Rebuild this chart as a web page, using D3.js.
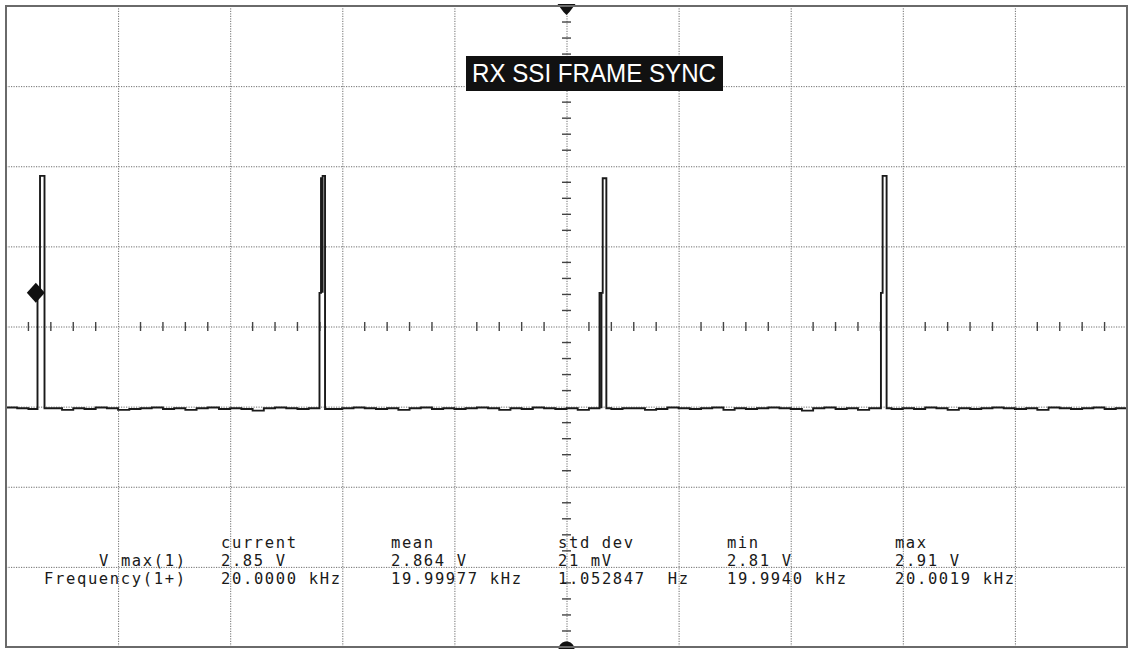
<!DOCTYPE html>
<html>
<head>
<meta charset="utf-8">
<script src="https://cdn.jsdelivr.net/npm/d3@7"></script>
<style>
  html, body { margin: 0; padding: 0; background: #fff; }
  svg { display: block; }
  .mono { font-family: "DejaVu Sans Mono", "Liberation Mono", monospace; font-size: 15.5px; fill: #1a1a1a; white-space: pre; }
</style>
</head>
<body>
<script>
// ---------- DATA ----------
// Time axis in microseconds (20 us/div), voltage axis in volts (1 V/div)
const timeDomain = [-100, 100];
const voltDomain = [-3, 5];
const xGridTicks = [-80, -60, -40, -20, 0, 20, 40, 60, 80];
const yGridTicks = [-2, -1, 0, 1, 2, 3, 4];
const xMinorTicks = [-96,-92,-88,-84,-76,-72,-68,-64,-56,-52,-48,-44,-36,-32,-28,-24,-16,-12,-8,-4,
                     4,8,12,16,24,28,32,36,44,48,52,56,64,68,72,76,84,88,92,96];
const yMinorTicks = [-2.8,-2.6,-2.4,-2.2,-1.8,-1.6,-1.4,-1.2,-0.8,-0.6,-0.4,-0.2,0.2,0.4,0.6,0.8,
                     1.2,1.4,1.6,1.8,2.2,2.4,2.6,2.8,3.2,3.4,3.6,3.8,4.2,4.4,4.6,4.8];

// Baseline samples (V), one every 2 us from -100 us
const baselineNoise = [
 -0.01,-0.02,-0.03,-0.01,-0.02,-0.04,-0.02,-0.03,-0.01,-0.02,
 -0.04,-0.03,-0.02,-0.01,-0.03,-0.02,-0.04,-0.02,-0.01,-0.03,
 -0.02,-0.03,-0.05,-0.02,-0.01,-0.02,-0.03,-0.02,-0.04,-0.03,
 -0.02,-0.01,-0.02,-0.03,-0.02,-0.04,-0.02,-0.01,-0.03,-0.02,
 -0.03,-0.02,-0.01,-0.02,-0.04,-0.02,-0.03,-0.01,-0.02,-0.03,
 -0.02,-0.04,-0.02,-0.01,-0.03,-0.02,-0.02,-0.04,-0.03,-0.01,
 -0.02,-0.03,-0.02,-0.01,-0.04,-0.02,-0.03,-0.02,-0.01,-0.02,
 -0.03,-0.05,-0.02,-0.01,-0.03,-0.02,-0.04,-0.02,-0.01,-0.03,
 -0.02,-0.03,-0.01,-0.02,-0.04,-0.02,-0.03,-0.02,-0.01,-0.02,
 -0.03,-0.02,-0.04,-0.01,-0.02,-0.03,-0.02,-0.01,-0.03,-0.02,
 -0.02];
const sampleStep = 2;

// Frame-sync pulses: [time us, volts] vertices (persistence overlay)
const pulse1 = [[-94.38, 1.42], [-93.93, 2.88], [-93.13, -0.02]];
const pulse2 = [[-44.07, 1.42], [-43.80, 2.85], [-43.51, 1.42], [-43.51, 2.88], [-43.08, -0.03]];
const pulse3 = [[5.89, 1.42], [6.24, -0.02], [6.24, 1.42], [6.46, 2.85], [7.11, -0.02]];
const pulse4 = [[56.10, 1.42], [56.40, 2.88], [57.11, -0.02]];
const pulses = [pulse1, pulse2, pulse3, pulse4];

const triggerLevel = 1.42;
const triggerTime = -94.5;

const channelLabel = "RX SSI FRAME SYNC";
const statHeaders = ["current", "mean", "std dev", "min", "max"];
const rowLabels = ["V max(1)", "Frequency(1+)"];
const vmaxStats = ["2.85 V", "2.864 V", "21 mV", "2.81 V", "2.91 V"];
const freqStats = ["20.0000 kHz", "19.99977 kHz", "1.052847  Hz", "19.9940 kHz", "20.0019 kHz"];

// ---------- CHART ----------
const W = 1130, H = 650;
const L = 6, R = 1127, T = 6, B = 647;
const svg = d3.select("body").append("svg").attr("width", W).attr("height", H);
svg.append("rect").attr("width", W).attr("height", H).attr("fill", "#fff");

const x = d3.scaleLinear().domain(timeDomain).range([L, R]);
const y = d3.scaleLinear().domain(voltDomain).range([B, T]);

// Grid via axes
const gx = svg.append("g").attr("transform", `translate(0,${B})`)
  .call(d3.axisBottom(x).tickValues(xGridTicks).tickSize(-(B - T)).tickFormat(""));
const gy = svg.append("g").attr("transform", `translate(${L},0)`)
  .call(d3.axisLeft(y).tickValues(yGridTicks).tickSize(-(R - L)).tickFormat(""));
[gx, gy].forEach(g => {
  g.select(".domain").remove();
  g.selectAll(".tick line").attr("stroke", "#6e6e6e").attr("stroke-width", 1)
    .attr("stroke-dasharray", "1.2,1.3");
});

// Minor ticks on centre lines
svg.append("g").selectAll("line").data(xMinorTicks).join("line")
  .attr("x1", d => x(d)).attr("x2", d => x(d))
  .attr("y1", y(1) - 4.5).attr("y2", y(1) + 4.5)
  .attr("stroke", "#444").attr("stroke-width", 1.4);
svg.append("g").selectAll("line").data(yMinorTicks).join("line")
  .attr("x1", x(0) - 4.5).attr("x2", x(0) + 4.5)
  .attr("y1", d => y(d)).attr("y2", d => y(d))
  .attr("stroke", "#444").attr("stroke-width", 1.4);

// Build trace: baseline samples with pulses inserted in order
const inPulse = t => pulses.some(p => t >= p[0][0] - 0.3 && t <= p[p.length - 1][0] + 0.3);
const trace = [];
const base = baselineNoise.map((v, i) => [timeDomain[0] + i * sampleStep, v]).filter(d => !inPulse(d[0]));
let bi = 0;
pulses.forEach(p => {
  while (bi < base.length && base[bi][0] < p[0][0]) trace.push(base[bi++]);
  p.forEach(d => trace.push(d));
});
while (bi < base.length) trace.push(base[bi++]);

const line = d3.line().x(d => x(d[0])).y(d => y(d[1])).curve(d3.curveStepAfter);
svg.append("path").datum(trace).attr("d", line)
  .attr("fill", "none").attr("stroke", "#1a1a1a").attr("stroke-width", 1.9)
  .attr("stroke-linejoin", "miter");

// Trigger level marker (diamond)
const tx = x(triggerTime), ty = y(triggerLevel);
svg.append("path")
  .attr("d", `M${tx - 10},${ty} L${tx - 1},${ty - 10} L${tx + 8},${ty} L${tx - 1},${ty + 10} Z`)
  .attr("fill", "#111");

// Trigger position markers (top / bottom)
const cx = x(0);
svg.append("path").attr("d", `M${cx - 9},${T - 2} L${cx + 9},${T - 2} L${cx + 3},${T + 6} L${cx},${T + 9} L${cx - 3},${T + 6} Z`).attr("fill", "#111");
svg.append("path").attr("d", `M${cx - 8},${B + 2} C${cx - 7},${B - 8} ${cx + 7},${B - 8} ${cx + 8},${B + 2} Z`).attr("fill", "#111");

// Frame
svg.append("rect").attr("x", L).attr("y", T).attr("width", R - L).attr("height", B - T)
  .attr("fill", "none").attr("stroke", "#6a6a6a").attr("stroke-width", 2);

// Channel label
svg.append("rect").attr("x", 466).attr("y", 56).attr("width", 257).attr("height", 35).attr("fill", "#111");
svg.append("text").attr("x", 594).attr("y", 82).attr("text-anchor", "middle")
  .attr("font-family", "'Liberation Sans Narrow','Arial Narrow','Liberation Sans',Arial,sans-serif")
  .attr("font-size", 26).attr("fill", "#fff")
  .attr("textLength", 244).attr("lengthAdjust", "spacingAndGlyphs")
  .text(channelLabel);

// Measurement table (monospace, ~11 px per character)
const charW = 11;
const colX = [221, 391, 558, 727, 895];
const rowY = [548, 566, 584];
const tbl = svg.append("g");
function cell(sel) {
  return sel.attr("textLength", d => d.length * charW - 2).attr("lengthAdjust", "spacing");
}
tbl.selectAll("text.h").data(statHeaders).join("text").attr("class", "mono h")
  .attr("x", (d, i) => colX[i]).attr("y", rowY[0]).text(d => d).call(cell);
tbl.selectAll("text.r").data(rowLabels).join("text").attr("class", "mono r")
  .attr("x", d => 185 - d.length * charW + 2).attr("y", (d, i) => rowY[i + 1]).text(d => d).call(cell);
tbl.selectAll("text.v").data(vmaxStats).join("text").attr("class", "mono v")
  .attr("x", (d, i) => colX[i]).attr("y", rowY[1]).text(d => d).call(cell);
tbl.selectAll("text.f").data(freqStats).join("text").attr("class", "mono f")
  .attr("x", (d, i) => colX[i]).attr("y", rowY[2]).text(d => d).call(cell);
</script>
</body>
</html>
